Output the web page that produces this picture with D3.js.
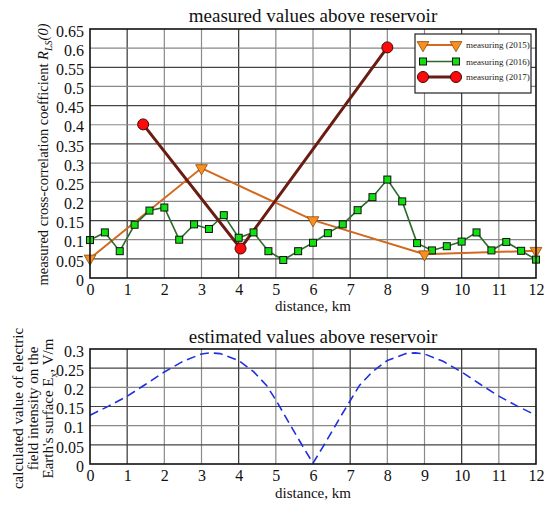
<!DOCTYPE html>
<html><head><meta charset="utf-8">
<script src="https://cdn.jsdelivr.net/npm/d3@7/dist/d3.min.js"></script>
<style>body{margin:0;background:#fff}svg{display:block}text{font-family:"Liberation Serif","Times New Roman",serif}</style>
</head><body>
<svg id="c" width="546" height="505"></svg>
<script>
// ---- data ----
const xTicks = [0,1,2,3,4,5,6,7,8,9,10,11,12];
const yTicksTop = [0,0.05,0.1,0.15,0.2,0.25,0.3,0.35,0.4,0.45,0.5,0.55,0.6,0.65];
const yTicksBottom = [0,0.05,0.1,0.15,0.2,0.25,0.3];

const x2015 = [0, 3, 6, 9, 12];
const y2015 = [0.051, 0.287, 0.151, 0.062, 0.071];

const x2016 = [0,0.4,0.8,1.2,1.6,2.0,2.4,2.8,3.2,3.6,4.0,4.4,4.8,5.2,5.6,6.0,6.4,6.8,7.2,7.6,8.0,8.4,8.8,9.2,9.6,10.0,10.4,10.8,11.2,11.6,12];
const y2016 = [0.099,0.119,0.070,0.139,0.176,0.184,0.100,0.140,0.128,0.164,0.105,0.119,0.070,0.047,0.070,0.092,0.117,0.140,0.177,0.211,0.257,0.200,0.091,0.072,0.083,0.095,0.119,0.072,0.094,0.071,0.048];

const x2017 = [1.43, 4.05, 8.0];
const y2017 = [0.401, 0.077, 0.602];

const xCalc = [0,0.5,1,1.5,2,2.5,3,3.25,3.5,4,4.4,4.75,5,5.25,5.5,5.75,6,6.25,6.5,6.75,7,7.25,7.6,8,8.5,8.75,9,9.5,10,10.5,11,11.5,12];
const yCalc = [0.127,0.151,0.177,0.208,0.240,0.268,0.287,0.290,0.288,0.270,0.241,0.205,0.167,0.125,0.083,0.042,0.002,0.042,0.083,0.125,0.165,0.205,0.241,0.270,0.288,0.290,0.287,0.268,0.240,0.208,0.177,0.151,0.127];

const legendLabels = ["measuring (2015)","measuring (2016)","measuring (2017)"];

// ---- drawing ----
const svg = d3.select("#c");
const L = 90, R = 536;
const top1 = 29, bot1 = 278, top2 = 349, bot2 = 464;

const x1 = d3.scaleLinear().domain([0,12]).range([L,R]);
const y1 = d3.scaleLinear().domain([0,0.65]).range([bot1,top1]);
const y2 = d3.scaleLinear().domain([0,0.3]).range([bot2,top2]);

const darkX = new Set([1,4,7,10]);
function grid(y, yt, top, bot){
  const g = svg.append("g");
  g.selectAll("line.v").data(xTicks.slice(1,-1)).join("line")
    .attr("x1",d=>x1(d)).attr("x2",d=>x1(d)).attr("y1",top).attr("y2",bot)
    .attr("stroke",d=>darkX.has(d)?"#333":"#8a8a8a").attr("stroke-width",1.2);
  g.selectAll("line.h").data(yt.slice(1,-1)).join("line")
    .attr("x1",L).attr("x2",R).attr("y1",d=>y(d)).attr("y2",d=>y(d))
    .attr("stroke",(d,i)=>i%2?"#888":"#444").attr("stroke-width",1.2);
  svg.append("g").attr("transform",`translate(0,${bot})`)
    .call(d3.axisBottom(x1).tickValues(xTicks).tickSize(0).tickPadding(6).tickFormat(d3.format("d")))
    .call(a=>{a.select(".domain").remove();a.selectAll("text").attr("font-size",16).attr("font-family","Liberation Serif").attr("fill","#111");});
  svg.append("g").attr("transform",`translate(${L},0)`)
    .call(d3.axisLeft(y).tickValues(yt).tickSize(0).tickPadding(6).tickFormat(d=>String(+d.toFixed(2))))
    .call(a=>{a.select(".domain").remove();a.selectAll("text").attr("font-size",16).attr("font-family","Liberation Serif").attr("fill","#111").attr("dy","0.45em");});
}
grid(y1, yTicksTop, top1, bot1);
grid(y2, yTicksBottom, top2, bot2);

// top series
const line = (xs,ys,y)=>d3.line().x((d,i)=>x1(xs[i])).y((d,i)=>y(ys[i]))(xs);
svg.append("path").attr("d",line(x2015,y2015,y1)).attr("fill","none").attr("stroke","#d2691e").attr("stroke-width",2);
svg.append("path").attr("d",line(x2016,y2016,y1)).attr("fill","none").attr("stroke","#2b6a2b").attr("stroke-width",1.6);
svg.append("path").attr("d",line(x2017,y2017,y1)).attr("fill","none").attr("stroke","#6b1b12").attr("stroke-width",3);

const tri = d3.symbol().type(d3.symbolTriangle).size(60);
function triMark(g,cx,cy){ g.append("path").attr("d",tri()).attr("transform",`translate(${cx},${cy}) rotate(180)`)
  .attr("fill","#f7901e").attr("stroke","#8a4a10").attr("stroke-width",0.8); }
function sqMark(g,cx,cy){ g.append("rect").attr("x",cx-3.5).attr("y",cy-3.5).attr("width",7).attr("height",7)
  .attr("fill","#10e010").attr("stroke","#111").attr("stroke-width",1); }
function ciMark(g,cx,cy){ g.append("circle").attr("cx",cx).attr("cy",cy).attr("r",5.5)
  .attr("fill","#ff0a0a").attr("stroke","#3a0a05").attr("stroke-width",1); }

const mg = svg.append("g");
x2016.forEach((d,i)=>sqMark(mg,x1(d),y1(y2016[i])));
x2015.forEach((d,i)=>triMark(mg,x1(d),y1(y2015[i])));
x2017.forEach((d,i)=>ciMark(mg,x1(d),y1(y2017[i])));

// bottom curve
svg.append("path").attr("d",line(xCalc,yCalc,y2)).attr("fill","none").attr("stroke","#1f2fe0")
  .attr("stroke-width",1.6).attr("stroke-dasharray","9,5");

// frames
svg.append("rect").attr("x",L).attr("y",top1).attr("width",R-L).attr("height",bot1-top1).attr("fill","none").attr("stroke","#111").attr("stroke-width",1.6);
svg.append("rect").attr("x",L).attr("y",top2).attr("width",R-L).attr("height",bot2-top2).attr("fill","none").attr("stroke","#111").attr("stroke-width",1.6);

// legend
const lg = svg.append("g");
lg.append("rect").attr("x",415).attr("y",34).attr("width",116).attr("height",59).attr("fill","#fff").attr("stroke","#222").attr("stroke-width",1.2);
const lc = ["#d2691e","#2b6a2b","#6b1b12"], lw=[2,1.6,3], ly=[45,61.5,77];
const mk=[triMark,sqMark,ciMark];
legendLabels.forEach((t,i)=>{
  lg.append("line").attr("x1",423).attr("x2",456).attr("y1",ly[i]).attr("y2",ly[i]).attr("stroke",lc[i]).attr("stroke-width",lw[i]);
  mk[i](lg,423,ly[i]); mk[i](lg,456,ly[i]);
  lg.append("text").attr("x",466).attr("y",ly[i]+3).attr("font-size",9).attr("fill","#222").text(t);
});

// titles & labels
svg.append("text").attr("x",313).attr("y",22).attr("text-anchor","middle").attr("font-size",19).attr("fill","#111").text("measured values above reservoir");
svg.append("text").attr("x",313).attr("y",343).attr("text-anchor","middle").attr("font-size",19).attr("fill","#111").text("estimated values above reservoir");
svg.append("text").attr("x",313).attr("y",311).attr("text-anchor","middle").attr("font-size",15).attr("fill","#111").text("distance, km");
svg.append("text").attr("x",313).attr("y",498).attr("text-anchor","middle").attr("font-size",15).attr("fill","#111").text("distance, km");

const yl = svg.append("text").attr("transform",`translate(48,${(top1+bot1)/2+1}) rotate(-90)`).attr("text-anchor","middle").attr("font-size",14.5).attr("fill","#111");
yl.append("tspan").text("measured cross-correlation coefficient ");
yl.append("tspan").attr("font-style","italic").text("R");
yl.append("tspan").attr("font-style","italic").attr("font-size",10).attr("dy",4).text("LS");
yl.append("tspan").attr("font-style","italic").attr("dy",-4).text("(0)");

const lines2 = ["calculated value of electric","field intensity on the","Earth's surface E"];
lines2.forEach((t,i)=>{
  const tx = svg.append("text").attr("transform",`translate(${23+i*15},${(top2+bot2)/2+2}) rotate(-90)`).attr("text-anchor","middle").attr("font-size",15).attr("fill","#111");
  if(i<2) tx.text(t);
  else { tx.append("tspan").text(t); tx.append("tspan").attr("font-size",10).attr("dy",4).text("x"); tx.append("tspan").attr("dy",-4).text(", V/m"); }
});
</script>
</body></html>
